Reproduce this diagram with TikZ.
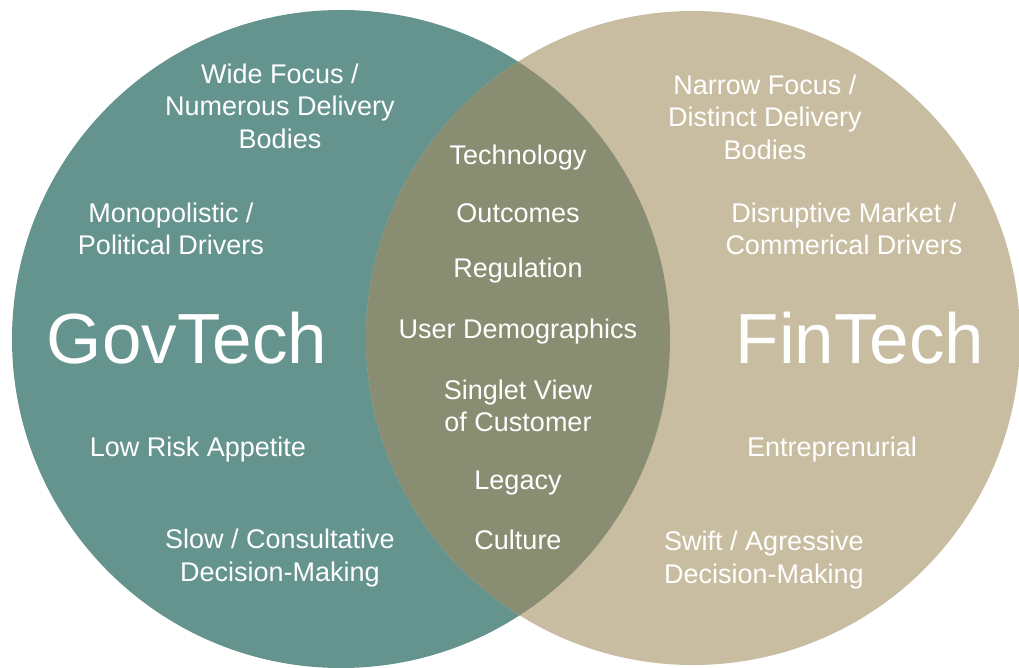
\documentclass[tikz,border=0pt]{standalone}
\usepackage{fontspec}
\setmainfont{Liberation Sans}
\definecolor{govteal}{HTML}{64948D}
\definecolor{fintan}{HTML}{C8BDA0}
\definecolor{overlapcol}{HTML}{898E72}
\begin{document}
\begin{tikzpicture}[x=1pt,y=-1pt,
  lbl/.style={text=white,align=center,inner sep=0pt,
    font=\fontsize{27}{32.5}\selectfont},
  big/.style={text=white,inner sep=0pt,font=\fontsize{71}{82}\selectfont}]
\useasboundingbox (0,0) rectangle (1019,668);
% the two sets
\fill[govteal] (341,339) circle[radius=329];
\fill[fintan] (693,338) circle[radius=327];
% their common part
\begin{scope}
  \clip (341,339) circle[radius=329];
  \fill[overlapcol] (693,338) circle[radius=327];
\end{scope}
% GovTech side
\node[lbl] (wide) at (280,106) {Wide Focus /\\Numerous Delivery\\Bodies};
\node[lbl] (mono) at (171,229) {Monopolistic /\\Political Drivers};
\node[big] (gov) at (187,338) {GovTech};
\node[lbl] (risk) at (198,450) {Low Risk Appetite};
\node[lbl] (slow) at (280,558) {Slow / Consultative\\Decision-Making};
% shared characteristics
\node[lbl] (tech) at (518,158) {Technology};
\node[lbl] (out) at (518,213) {Outcomes};
\node[lbl] (reg) at (518,271) {Regulation};
\node[lbl] (user) at (518,332) {User Demographics};
\node[lbl] (single) at (518,406) {Singlet View\\of Customer};
\node[lbl] (legacy) at (518,483) {Legacy};
\node[lbl] (culture) at (518,540) {Culture};
% FinTech side
\node[lbl] (narrow) at (765,117) {Narrow Focus /\\Distinct Delivery\\Bodies};
\node[lbl] (disr) at (844,229) {Disruptive Market /\\Commerical Drivers};
\node[big] (fin) at (860,338) {FinTech};
\node[lbl] (entre) at (832,450) {Entreprenurial};
\node[lbl] (swift) at (764,560) {Swift / Agressive\\Decision-Making};
\end{tikzpicture}
\end{document}
